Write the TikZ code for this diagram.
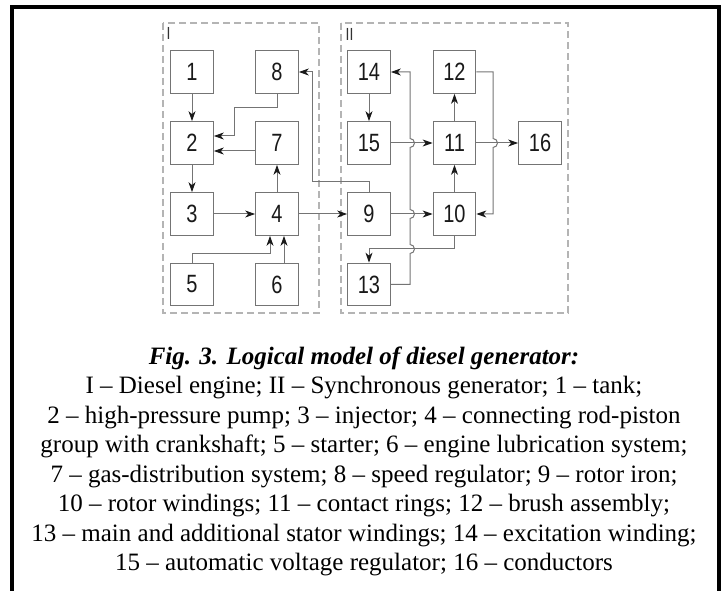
\documentclass[tikz,border=0pt]{standalone}
\usepackage{fontspec}
\setmainfont{Liberation Serif}
\newfontfamily\boxfont[FakeStretch=0.8]{Liberation Sans}
\usetikzlibrary{arrows.meta,calc}
\definecolor{linegray}{HTML}{747474}
\definecolor{dashgray}{HTML}{B4B4B4}
\definecolor{tipcol}{HTML}{1A1A1A}
\definecolor{lblcol}{HTML}{333333}
\begin{document}
\begin{tikzpicture}[x=1pt,y=-1pt,
  blk/.style={draw=linegray, line width=1.2pt, minimum width=42.5pt, minimum height=42.5pt,
    inner sep=0pt, font=\boxfont\fontsize{25}{25}\selectfont, text=black!90},
  conn/.style={draw=linegray, line width=1pt},
  arr/.style={conn, -{Stealth[length=10pt,width=7pt,inset=3pt,color=tipcol]}},
  grp/.style={draw=dashgray, line width=1.2pt, dash pattern=on 7pt off 4pt},
  grplbl/.style={anchor=base west, inner sep=0pt, text=lblcol, font=\boxfont\fontsize{17.5}{17.5}\selectfont},
  captxt/.style={anchor=base, inner sep=0pt, font=\fontsize{25}{29}\selectfont}]
\useasboundingbox (0,0) rectangle (724,591);
% outer frame
\draw[line width=4pt] (11.5,591) -- (11.5,7) -- (719,7) -- (719,591);
% groups
\draw[grp] (163,23) rectangle (319,313);
\draw[grp] (341,23) rectangle (568,313);
\node[grplbl] (lI) at (166.5,39.5) {I};
\node[grplbl] (lII) at (345.5,40.5) {II};
% blocks
\node[blk] (n1) at (192,72) {1};
\node[blk] (n8) at (277,72) {8};
\node[blk] (n2) at (192,143) {2};
\node[blk] (n7) at (277,143) {7};
\node[blk] (n3) at (192,214) {3};
\node[blk] (n4) at (277,214) {4};
\node[blk] (n5) at (192,284.5) {5};
\node[blk] (n6) at (277,284.5) {6};
\node[blk] (n14) at (369,72) {14};
\node[blk] (n12) at (454.5,72) {12};
\node[blk] (n15) at (369,143) {15};
\node[blk] (n11) at (454.5,143) {11};
\node[blk] (n16) at (540,143) {16};
\node[blk] (n9) at (369,214) {9};
\node[blk] (n10) at (454.5,214) {10};
\node[blk] (n13) at (369,284.5) {13};
% connectors group I
\draw[arr] (n1) -- (n2);
\draw[arr] (n2) -- (n3);
\draw[arr] (n3) -- (n4);
\draw[arr] (n4) -- (n7);
\draw[arr] (n8.south) -- (277,108) -- (234,108) -- (234,136) -- ($(n2.east)+(0,-7)$);
\draw[arr] ($(n7.west)+(0,8)$) -- ($(n2.east)+(0,8)$);
\draw[arr] (n5.north) |- ($(n4.south)+(-7,18)$) -- ($(n4.south)+(-7,0)$);
\draw[arr] ($(n6.north)+(7,0)$) -- ($(n4.south)+(7,0)$);
\draw[arr] (n4) -- (n9);
\draw[arr] (n9.north) |- (312,182) |- (n8.east);
% connectors group II
\draw[arr] (n14) -- (n15);
\draw[arr] (n15) -- (n11);
\draw[arr] (n9) -- (n10);
\draw[arr] (n10) -- (n11);
\draw[arr] (n11) -- (n12);
\draw[arr] (n11) -- (n16);
\draw[arr] (n10.south) |- ($(n13.north)+(0,-14)$) -- (n13.north);
\draw[arr] (n13.east) -- (410,284.5) -- (410,253.5)
  arc[start angle=-90,end angle=90,radius=4.5pt] -- (410,218.5)
  arc[start angle=-90,end angle=90,radius=4.5pt] -- (410,147.5)
  arc[start angle=-90,end angle=90,radius=4.5pt] -- (410,72) -- (n14.east);
\draw[arr] (n12.east) -- (493,72) -- (493,138.5)
  arc[start angle=90,end angle=-90,radius=4.5pt] -- (493,214) -- (n10.east);
% caption
\node[captxt] (c0) at (364,364) {\textbf{\textit{Fig. 3. Logical model of diesel generator:}}};
\node[captxt] (c1) at (364,393.5) {I – Diesel engine; II – Synchronous generator; 1 – tank;};
\node[captxt] (c2) at (364,423) {2 – high-pressure pump; 3 – injector; 4 – connecting rod-piston};
\node[captxt] (c3) at (364,452.5) {group with crankshaft; 5 – starter; 6 – engine lubrication system;};
\node[captxt] (c4) at (364,482) {7 – gas-distribution system; 8 – speed regulator; 9 – rotor iron;};
\node[captxt] (c5) at (364,511.5) {10 – rotor windings; 11 – contact rings; 12 – brush assembly;};
\node[captxt] (c6) at (364,541) {13 – main and additional stator windings; 14 – excitation winding;};
\node[captxt] (c7) at (364,570.5) {15 – automatic voltage regulator; 16 – conductors};
\end{tikzpicture}
\end{document}
